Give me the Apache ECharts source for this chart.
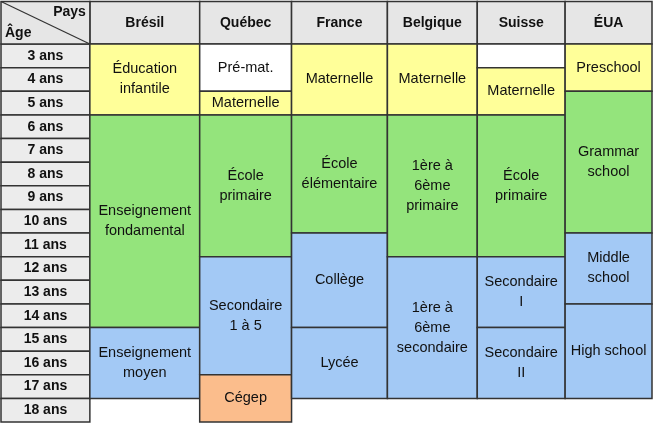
<!DOCTYPE html>
<html><head><meta charset="utf-8">
<script src="https://cdn.jsdelivr.net/npm/echarts@6/dist/echarts.min.js"></script>
<style>html,body{margin:0;padding:0;background:#fff}#c{width:653px;height:423px}</style>
</head><body><div id="c"></div>
<script>
var countries = ['Brésil', 'Québec', 'France', 'Belgique', 'Suisse', 'ÉUA'];
var ages = [3, 4, 5, 6, 7, 8, 9, 10, 11, 12, 13, 14, 15, 16, 17, 18];
// column edges (age column, then countries), in relative width units
var colEdges = [0, 89, 199, 291, 387, 477, 565, 652];
// [country index, first age, last age, label, kind]
var blocks = [
	[0, 3, 5, 'Éducation\ninfantile', 'pre'],
	[0, 6, 14, 'Enseignement\nfondamental', 'prim'],
	[0, 15, 17, 'Enseignement\nmoyen', 'sec'],
	[1, 3, 4, 'Pré-mat.', 'none'],
	[1, 5, 5, 'Maternelle', 'pre'],
	[1, 6, 11, 'École\nprimaire', 'prim'],
	[1, 12, 16, 'Secondaire\n1 à 5', 'sec'],
	[1, 17, 18, 'Cégep', 'post'],
	[2, 3, 5, 'Maternelle', 'pre'],
	[2, 6, 10, 'École\nélémentaire', 'prim'],
	[2, 11, 14, 'Collège', 'sec'],
	[2, 15, 17, 'Lycée', 'sec'],
	[3, 3, 5, 'Maternelle', 'pre'],
	[3, 6, 11, '1ère à\n6ème\nprimaire', 'prim'],
	[3, 12, 17, '1ère à\n6ème\nsecondaire', 'sec'],
	[4, 3, 3, '', 'none'],
	[4, 4, 5, 'Maternelle', 'pre'],
	[4, 6, 11, 'École\nprimaire', 'prim'],
	[4, 12, 14, 'Secondaire\nI', 'sec'],
	[4, 15, 17, 'Secondaire\nII', 'sec'],
	[5, 3, 4, 'Preschool', 'pre'],
	[5, 5, 10, 'Grammar\nschool', 'prim'],
	[5, 11, 13, 'Middle\nschool', 'sec'],
	[5, 14, 17, 'High school', 'sec']
];
var colors = { pre: '#ffff99', prim: '#94e47c', sec: '#a3c9f5', post: '#fbbd8c', none: '#ffffff' };
var headTop = 1.2;

function cell(api, c, y0, y1, fill, label, bold) {
	var p0 = api.coord([colEdges[c], y0]);
	var p1 = api.coord([colEdges[c + 1], y1]);
	return {
		type: 'rect',
		shape: { x: p0[0], y: p0[1], width: p1[0] - p0[0], height: p1[1] - p0[1] },
		style: { fill: fill, stroke: '#333', lineWidth: 1.5 },
		textContent: {
			style: { text: label, fill: '#111', fontSize: bold ? 14 : 14.5, fontWeight: bold ? 'bold' : 'normal',
				fontFamily: 'Liberation Sans, Arial', align: 'center', lineHeight: 20 }
		},
		textConfig: { position: 'inside' }
	};
}

var option = {
	animation: false,
	grid: { left: 1, right: 1, top: 44, bottom: 1 },
	xAxis: { type: 'value', min: 0, max: 652, show: false },
	yAxis: { type: 'value', min: 3, max: 19, inverse: true, show: false },
	series: [{
		type: 'custom',
		data: ages.map(function(a) { return [a]; }),
		renderItem: function(params, api) {
			var a = api.value(0);
			return cell(api, 0, a, a + 1, '#ececec', a + ' ans', true);
		}
	}, {
		type: 'custom',
		data: countries.map(function(c, i) { return [i]; }),
		renderItem: function(params, api) {
			var i = api.value(0);
			return cell(api, i + 1, headTop, 3, '#e6e6e6', countries[i], true);
		}
	}, {
		type: 'custom',
		data: [[0]],
		renderItem: function(params, api) {
			var p0 = api.coord([colEdges[0], headTop]);
			var p1 = api.coord([colEdges[1], 3]);
			return { type: 'group', children: [
				{ type: 'rect', shape: { x: p0[0], y: p0[1], width: p1[0] - p0[0], height: p1[1] - p0[1] },
					style: { fill: '#e6e6e6', stroke: '#333', lineWidth: 1.5 } },
				{ type: 'line', shape: { x1: p0[0], y1: p0[1], x2: p1[0], y2: p1[1] }, style: { stroke: '#333', lineWidth: 1.2 } },
				{ type: 'text', x: p1[0] - 4, y: p0[1] + 4, style: { text: 'Pays', align: 'right', verticalAlign: 'top', fontSize: 14, fontWeight: 'bold', fontFamily: 'Liberation Sans, Arial', fill: '#111' } },
				{ type: 'text', x: p0[0] + 4, y: p1[1] - 4, style: { text: 'Âge', align: 'left', verticalAlign: 'bottom', fontSize: 14, fontWeight: 'bold', fontFamily: 'Liberation Sans, Arial', fill: '#111' } }
			] };
		}
	}, {
		type: 'custom',
		data: blocks.map(function(b, i) { return [b[0], b[1], b[2], i]; }),
		renderItem: function(params, api) {
			var b = blocks[api.value(3)];
			return cell(api, b[0] + 1, b[1], b[2] + 1, colors[b[4]], b[3], false);
		}
	}]
};
echarts.init(document.getElementById('c')).setOption(option);
</script>
</body></html>
